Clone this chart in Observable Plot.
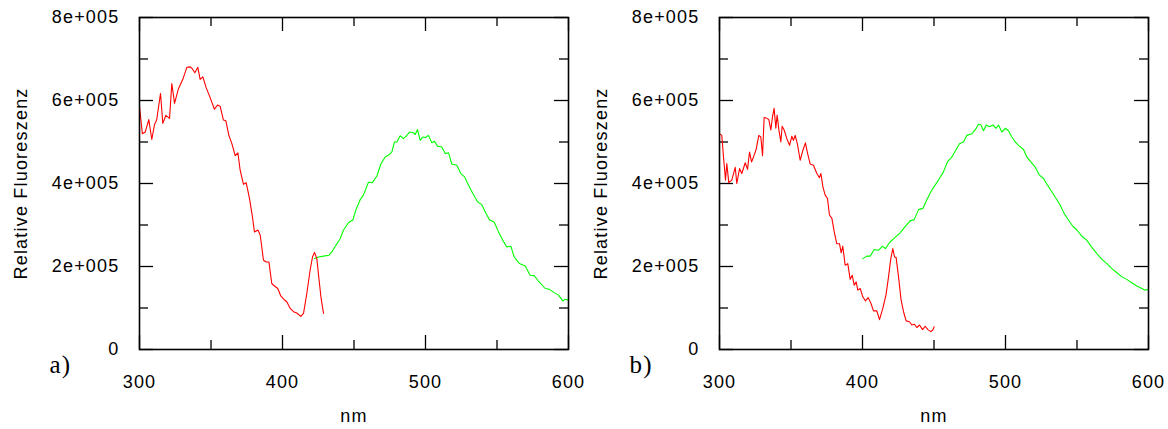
<!DOCTYPE html>
<html>
<head>
<meta charset="utf-8">
<script src="https://cdn.jsdelivr.net/npm/d3@7"></script>
<script src="https://cdn.jsdelivr.net/npm/@observablehq/plot@0.6"></script>
<style>
  html, body { margin: 0; padding: 0; background: white; }
  #wrap { position: relative; width: 1168px; height: 429px; overflow: hidden; background: white; }
  .panel { position: absolute; top: 0; }
  .panel svg { overflow: visible; }
</style>
</head>
<body>
<div id="wrap"><div class="panel" id="pa" style="left:0px"></div><div class="panel" id="pb" style="left:580px"></div></div>
<script>
// ---- data (values in units of 1e5) ----
const aRedNm = [300,302,304,306.5,308.6,310.5,312,314.7,316.3,318.4,321,322.6,324.5,327.3,330.3,333.1,335.4,336.8,338.7,340.8,342.4,344.3,346.6,349.4,352.4,354.5,356.4,358.7,360.4,362.5,364.6,366.9,368.8,370.4,372.7,374.6,376.9,378.8,380.4,382.8,384.4,386.7,388.6,390.5,392.5,394.4,396.7,398.8,401.2,403,405.4,407.7,410,412.8,414.7,417,419.3,421,422.4,424,425.6,427,428.7];
const aRedVal = [5.86,5.20,5.24,5.54,5.06,5.42,5.53,6.17,5.45,5.64,5.57,6.41,5.93,6.29,6.51,6.80,6.81,6.77,6.67,6.80,6.51,6.57,6.31,6.07,5.79,5.89,5.86,5.53,5.51,5.16,4.96,4.67,4.74,4.32,3.98,4.02,3.64,3.24,2.83,2.88,2.76,2.15,2.11,2.11,1.59,1.53,1.47,1.29,1.20,1.15,0.99,0.91,0.88,0.80,0.87,1.35,1.91,2.23,2.34,2.19,1.67,1.23,0.87];

const aGreenNm = [422.4,425.2,428.7,432.4,434.5,437.3,440.3,442.7,446.2,449.2,451.3,454.3,456.6,460.1,462.9,466,468.8,471.8,474.8,476.5,478.3,480,482.3,484.6,486.5,488.8,491.1,492.8,494.4,496.3,498.1,500,502.1,504.4,506.3,508.4,511.4,513.8,516.1,518.4,521.9,524.7,527.3,530.1,533.1,536.4,539.4,541.7,544.8,548,551,554.1,556.9,559.7,562,565.7,569.7,573.2,576,579,583.7,586.7,590,593,596,597.7,600];
const aGreenVal = [2.19,2.23,2.25,2.27,2.35,2.51,2.67,2.88,3.06,3.12,3.36,3.61,3.72,4.03,4.02,4.18,4.47,4.64,4.70,4.76,5.00,5.00,5.15,5.08,5.14,5.24,5.23,5.18,5.30,5.04,5.12,5.11,5.16,4.98,5.02,4.90,4.88,4.72,4.74,4.47,4.44,4.24,4.16,3.96,3.76,3.56,3.49,3.32,3.12,3.07,2.84,2.63,2.47,2.49,2.23,2.07,2.01,1.79,1.78,1.65,1.47,1.45,1.37,1.31,1.17,1.21,1.19];

const bRedNm = [300.5,301.6,302.8,304.2,305.1,306.5,308.6,311,312.1,314,315.6,318,319.6,321,322.4,323.8,325.6,327.5,328.9,330.1,331.2,333.1,334.5,335.9,337.1,338.2,339.4,340.3,341.5,342.9,343.8,345.2,347.1,349,350.6,351.7,352.9,354.5,356.4,358.3,360.1,361.5,363.4,365.7,368.1,369.9,370.9,372.3,373.9,375.5,376.9,378.6,380.2,382,383.9,385.1,386.2,387.9,389.7,391.4,392.8,394.2,395.6,396.7,398.4,400.2,402.1,404,405.8,407.7,410,411.9,414.2,416.4,418.2,419.8,421.2,422.4,423.5,425.2,427,428.7,430.5,432.9,434.5,436.2,438,439.9,442,443.8,445.7,447.8,449.2,450.1];
const bRedVal = [5.19,5.16,4.64,4.08,4.48,4.02,4.08,4.39,4.00,4.36,4.24,4.50,4.34,4.76,4.52,4.64,4.82,5.16,5.12,4.67,5.59,5.57,5.54,5.29,5.62,5.81,5.33,5.65,5.30,5.00,5.38,5.29,5.08,4.92,5.14,5.04,5.16,4.95,4.56,4.80,4.98,4.74,4.47,4.44,4.24,4.14,4.24,3.92,3.72,3.64,3.24,3.16,2.84,2.55,2.55,2.33,2.49,2.03,2.07,1.69,1.79,1.55,1.63,1.43,1.47,1.27,1.17,1.25,1.12,0.93,0.93,0.72,0.99,1.31,1.75,2.19,2.43,2.23,2.22,1.75,1.19,0.91,0.69,0.67,0.59,0.61,0.53,0.59,0.48,0.56,0.48,0.43,0.47,0.55];

const bGreenNm = [400.2,403,405.4,408.2,411.2,414,415.9,419.3,422.8,426.3,429.8,433.3,436.1,439.2,442.2,445,447.8,450.8,453.8,456.6,459.4,462.5,465.5,467.8,470.6,473,476.5,478.8,481.1,482.8,484.6,486.5,488.8,491.1,493.5,495.1,497.4,499.8,502.1,504.4,506.8,509.1,512.6,514.9,517.7,520.7,523.8,526.6,529.4,532.4,535.4,538.2,541,544,547.1,549.9,553.4,556.9,560.4,563.9,567.4,570.9,574.4,577.9,581.4,584.8,588.3,591.8,595.3,597.7,600];
const bGreenVal = [2.19,2.25,2.25,2.41,2.39,2.49,2.43,2.59,2.70,2.81,2.96,3.10,3.13,3.37,3.40,3.61,3.80,3.96,4.12,4.28,4.52,4.64,4.82,4.96,5.00,5.16,5.20,5.29,5.43,5.41,5.27,5.41,5.37,5.41,5.33,5.41,5.24,5.33,5.27,5.12,5.00,4.92,4.82,4.64,4.52,4.40,4.20,4.12,3.96,3.80,3.64,3.48,3.28,3.12,2.97,2.88,2.73,2.63,2.46,2.31,2.17,2.07,1.95,1.85,1.75,1.69,1.61,1.53,1.47,1.43,1.45];

const xMajor = [300, 400, 500, 600];
const xMinor = [350, 450, 550];
const yMajor = [0, 200000, 400000, 600000, 800000];
const yMinor = [100000, 300000, 500000, 700000];
const yTickLabels = ["0", "2e+005", "4e+005", "6e+005", "8e+005"];
const panelLabels = ["a)", "b)"];
const xLabel = "nm";
const yLabel = "Relative Fluoreszenz";

const toRows = (nm, val) => nm.map((n, i) => ({nm: n, v: val[i] * 1e5}));

const H = 429, mL = 139, mT = 17, mB = 80;
const fw = 429, fh = H - mT - mB;

function panel(red, green, label, mR) {
  const W = mL + fw + mR;
  return Plot.plot({
    width: W, height: H,
    marginLeft: mL, marginRight: mR, marginTop: mT, marginBottom: mB,
    style: {fontFamily: "'Liberation Sans', Arial, sans-serif", fontSize: "18px", letterSpacing: "1.2px", background: "transparent", overflow: "visible"},
    x: {domain: [300, 600]},
    y: {domain: [0, 800000]},
    marks: [
      // inward ticks
      Plot.tickX(xMajor, {x: d => d, stroke: "black", strokeWidth: 1.3, insetTop: fh - 14}),
      Plot.tickX(xMajor, {x: d => d, stroke: "black", strokeWidth: 1.3, insetBottom: fh - 14}),
      Plot.tickX(xMinor, {x: d => d, stroke: "black", strokeWidth: 1.3, insetTop: fh - 9}),
      Plot.tickX(xMinor, {x: d => d, stroke: "black", strokeWidth: 1.3, insetBottom: fh - 9}),
      Plot.tickY(yMajor, {y: d => d, stroke: "black", strokeWidth: 1.3, insetRight: fw - 14}),
      Plot.tickY(yMajor, {y: d => d, stroke: "black", strokeWidth: 1.3, insetLeft: fw - 14}),
      Plot.tickY(yMinor, {y: d => d, stroke: "black", strokeWidth: 1.3, insetRight: fw - 9}),
      Plot.tickY(yMinor, {y: d => d, stroke: "black", strokeWidth: 1.3, insetLeft: fw - 9}),
      Plot.line(green, {x: "nm", y: "v", stroke: "#00ff00", strokeWidth: 1.1}),
      Plot.line(red, {x: "nm", y: "v", stroke: "#ff0000", strokeWidth: 1.1}),
      Plot.frame({stroke: "black", strokeWidth: 1.6}),
      Plot.axisY(yMajor, {tickSize: 0, tickPadding: 20, tickFormat: d => yTickLabels[yMajor.indexOf(d)], label: null, fill: "black"}),
      Plot.axisX(xMajor, {tickSize: 0, tickPadding: 26, label: null, fill: "black"}),
      Plot.text([xLabel], {frameAnchor: "bottom", dy: 72, fill: "black"}),
      Plot.text([yLabel], {frameAnchor: "left", textAnchor: "middle", rotate: -90, dx: -118, fill: "black"}),
      Plot.text([label], {frameAnchor: "bottom-left", textAnchor: "start", dx: -90, dy: 23, fill: "black",
        fontFamily: "'Liberation Serif', 'Times New Roman', serif", fontSize: 25, letterSpacing: "2px"})
    ]
  });
}

document.getElementById("pa").appendChild(panel(toRows(aRedNm, aRedVal), toRows(aGreenNm, aGreenVal), panelLabels[0], 12));
document.getElementById("pb").appendChild(panel(toRows(bRedNm, bRedVal), toRows(bGreenNm, bGreenVal), panelLabels[1], 20));
</script>
</body>
</html>
